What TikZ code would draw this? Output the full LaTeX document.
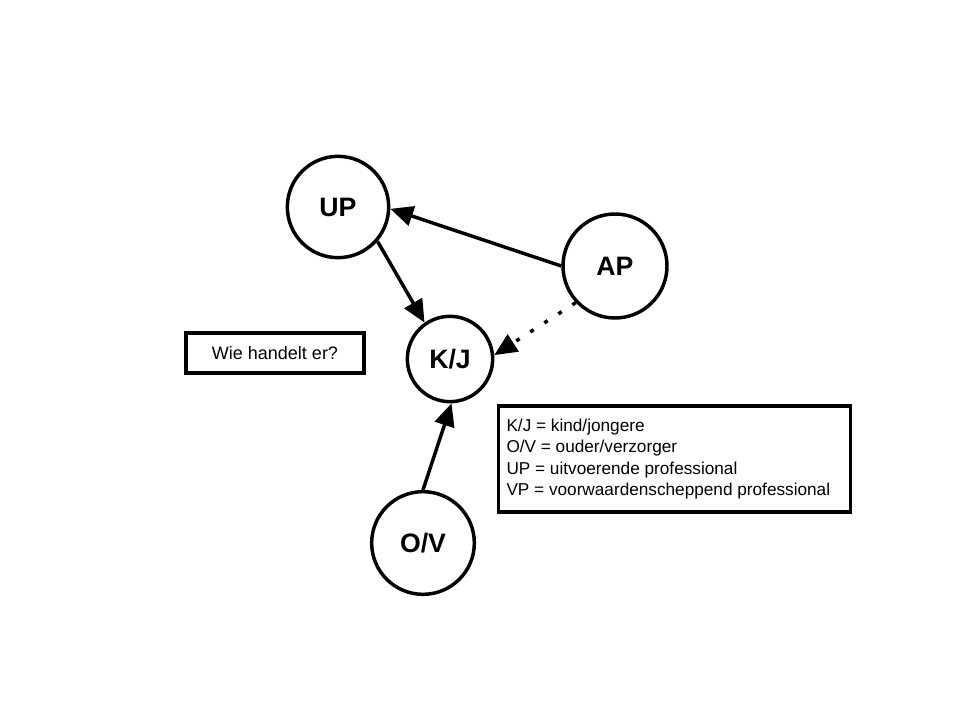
\documentclass[tikz,border=0pt]{standalone}
\usepackage{fontspec}
\setmainfont{Liberation Sans}
\usetikzlibrary{arrows.meta}
\begin{document}
\begin{tikzpicture}[x=0.75pt,y=-0.75pt,
  circ/.style={draw,circle,line width=2.6pt,minimum size=76pt,inner sep=0pt,font=\fontsize{20}{22}\selectfont\bfseries},
  boxx/.style={draw,line width=2.3pt,inner sep=0pt},
  arr/.style={line width=2.6pt,-{Triangle[length=17pt,width=15pt]}}]
\useasboundingbox (0,0) rectangle (960,720);
\node[circ,minimum size=76pt] (UP) at (338,207) {UP};
\node[circ,minimum size=78pt] (AP) at (615,266) {AP};
\node[circ,minimum size=64pt] (KJ) at (450,359) {K/J};
\node[circ,minimum size=77pt] (OV) at (423,543) {O/V};
\node[boxx,minimum width=133.5pt,minimum height=30pt,font=\fontsize{13.5}{16}\selectfont] (Q) at (275,353) {Wie handelt er?};
\node[boxx,minimum width=264.5pt,minimum height=79.5pt,align=left,font=\fontsize{12.9}{16}\selectfont] (L) at (674.5,459) {%
\parbox{252pt}{K/J = kind/jongere\\O/V = ouder/verzorger\\UP = uitvoerende professional\\VP = voorwaardenscheppend professional}};
\draw[arr] (AP.180) -- (UP.-2);
\draw[arr] (UP.-41) -- (KJ.125);
\draw[arr] (OV.90) -- (KJ.-88);
\draw[arr,dash pattern=on 3pt off 9.5pt] (AP.223) -- (KJ.5);
\end{tikzpicture}
\end{document}
